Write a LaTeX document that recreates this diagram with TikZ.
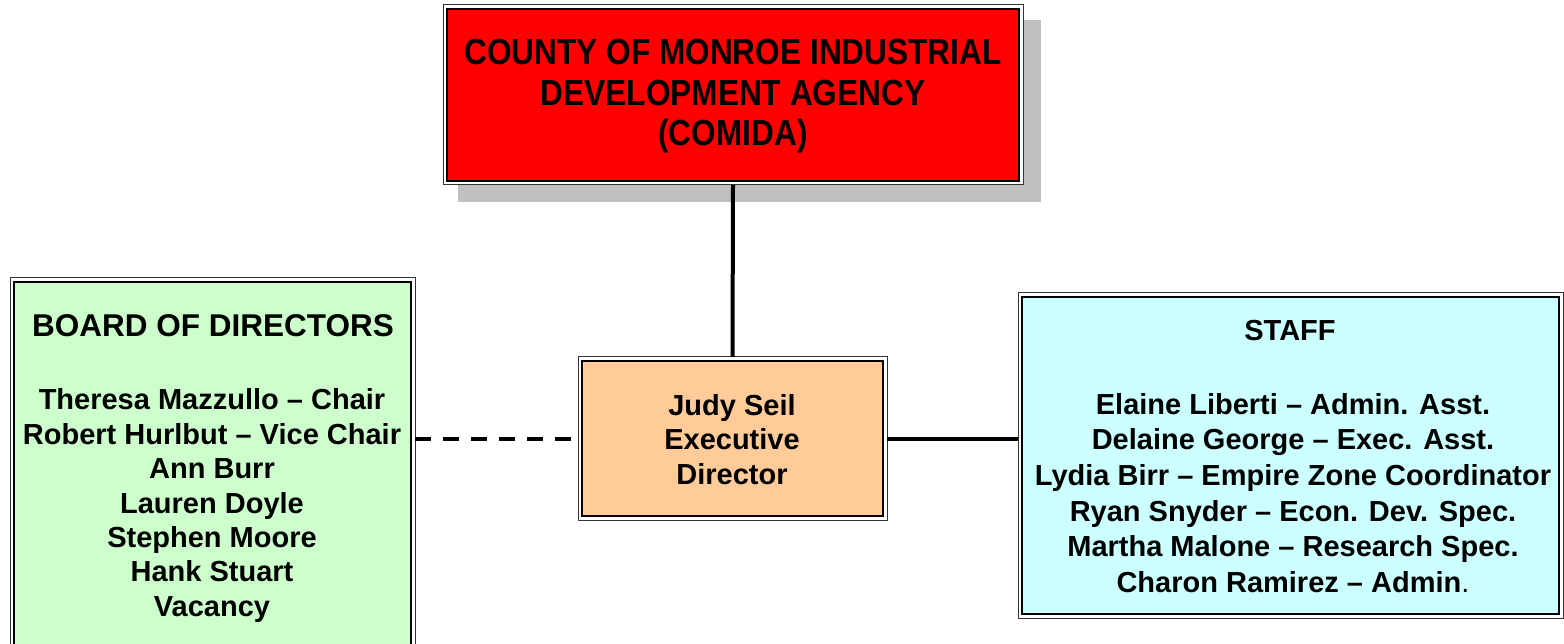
\documentclass[tikz,border=0pt]{standalone}
\usepackage{fontspec}
\usepackage{graphicx}
\setmainfont{Liberation Sans}
\definecolor{topred}{HTML}{FF0000}
\definecolor{boardgreen}{HTML}{CCFFCC}
\definecolor{staffcyan}{HTML}{CCFFFF}
\definecolor{edorange}{HTML}{FFCC99}
\definecolor{shadowgray}{HTML}{C0C0C0}
\begin{document}
\begin{tikzpicture}[x=1pt,y=-1pt,
  box/.style={draw=black!80, line width=1pt, fill=white, inner sep=0pt, outer sep=0pt},
  inner/.style={draw=black, line width=1.6pt},
  body/.style={align=center, font=\bfseries\fontsize{29}{34.4}\selectfont, inner sep=0pt},
  link/.style={draw=black, line width=4pt}
]
\useasboundingbox (0,0) rectangle (1564,644);
% boxes
\node[box, draw=none, fill=none, minimum width=580pt, minimum height=180pt] (top) at (733,95) {};
\fill[shadowgray] ([shift={(15,15)}]top.north west) rectangle ([shift={(18,17)}]top.south east);
\node[box, minimum width=580pt, minimum height=180pt] at (top.center) {};
\draw[inner, fill=topred] ([shift={(4,4)}]top.north west) rectangle ([shift={(-4,-4)}]top.south east);

\node[box, minimum width=405pt, minimum height=382pt] (board) at (212.5,469) {};
\draw[inner, fill=boardgreen] ([shift={(4,4)}]board.north west) rectangle ([shift={(-4,-4)}]board.south east);

\node[box, minimum width=545pt, minimum height=325pt] (staff) at (1290.5,455.5) {};
\draw[inner, fill=staffcyan] ([shift={(4,4)}]staff.north west) rectangle ([shift={(-4,-4)}]staff.south east);

\node[box, minimum width=309pt, minimum height=163pt] (ed) at (732.5,438.5) {};
\draw[inner, fill=edorange] ([shift={(4,4)}]ed.north west) rectangle ([shift={(-4,-4)}]ed.south east);

% connectors
\draw[link] (top.south) -- (ed.north);
\draw[link, dash pattern=on 16pt off 12pt] (board.east |- ed.west) -- (ed.west);
\draw[link] (ed.east) -- (staff.west |- ed.east);

% texts
\node[inner sep=0pt] (toptext) at (733,97)
  {\scalebox{1}[1.15]{\bfseries\fontsize{31.6}{34.8}\selectfont\begin{tabular}{@{}c@{}}COUNTY OF MONROE INDUSTRIAL\\DEVELOPMENT AGENCY\\(COMIDA)\end{tabular}}};
\node[inner sep=0pt, font=\bfseries\fontsize{31.5}{36}\selectfont] (boardhead) at (213,326) {BOARD OF DIRECTORS};
\node[body] (boardnames) at (212,505.5)
  {Theresa Mazzullo – Chair\\Robert Hurlbut – Vice Chair\\Ann Burr\\Lauren Doyle\\Stephen Moore\\Hank Stuart\\Vacancy};
\node[inner sep=0pt, font=\bfseries\fontsize{29}{34}\selectfont] (staffhead) at (1290,331) {STAFF};
\node[body, font=\bfseries\fontsize{29}{35.6}\selectfont] (staffnames) at (1293,493)
  {Elaine Liberti – Admin. Asst.\\Delaine George – Exec. Asst.\\Lydia Birr – Empire Zone Coordinator\\Ryan Snyder – Econ. Dev. Spec.\\Martha Malone – Research Spec.\\Charon Ramirez – Admin{\mdseries.}};
\node[body] (edtext) at (732,439.5) {Judy Seil\\Executive\\Director};
\end{tikzpicture}
\end{document}
